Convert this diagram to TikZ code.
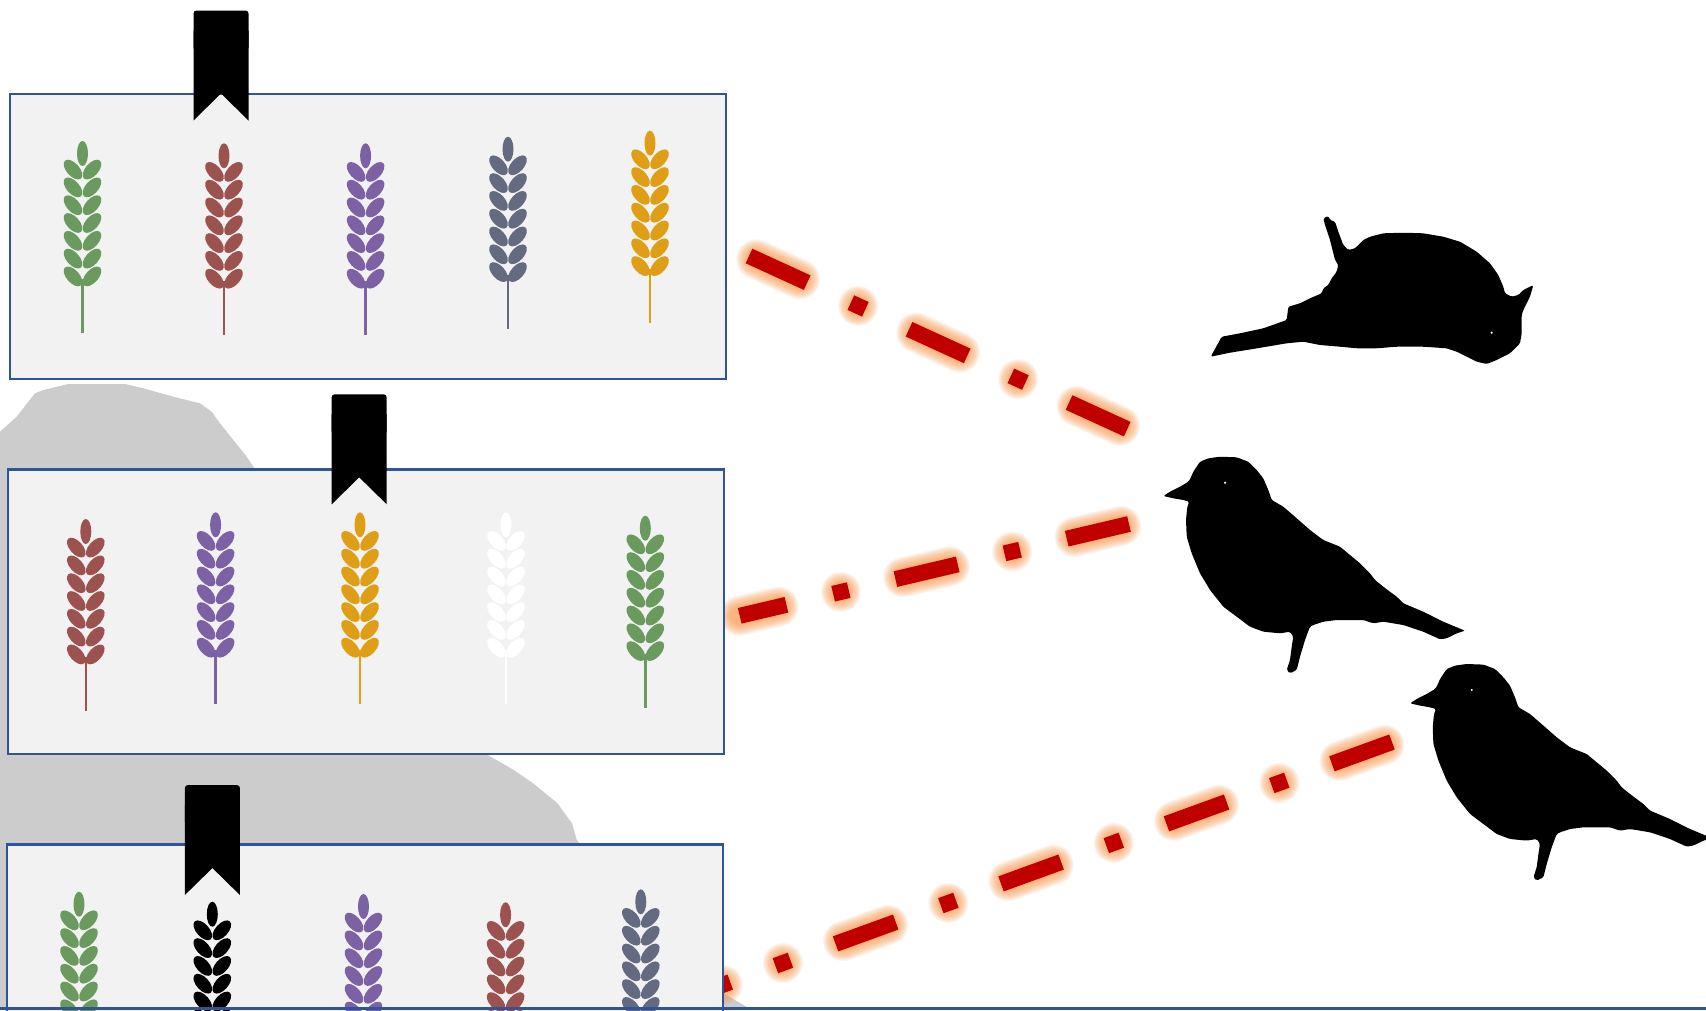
\documentclass[tikz,border=0pt]{standalone}
\usepackage{tikz}
\definecolor{trayblue}{RGB}{47,85,151}
\definecolor{trayfill}{RGB}{242,242,242}
\definecolor{shadowgrey}{RGB}{204,204,204}
\definecolor{linkred}{RGB}{192,0,0}
\definecolor{linkglow}{RGB}{250,150,70}
\definecolor{wgreen}{RGB}{106,154,94}
\definecolor{wred}{RGB}{156,82,78}
\definecolor{wpurple}{RGB}{124,98,164}
\definecolor{wslate}{RGB}{100,106,128}
\definecolor{wgold}{RGB}{222,158,22}
\tikzset
{
  tray/.style   = {draw=trayblue, fill=trayfill, line width=2.2pt, minimum width=716pt, minimum height=284.5pt, anchor=north west, inner sep=0pt},
  link/.style   = {linkred, line width=16pt, dash pattern=on 64pt off 48pt on 16pt off 48pt},
  halo/.style   = {linkglow, opacity=0.09, line cap=round, dash pattern=on 48pt off 64pt on 0pt off 64pt},
  pics/wheat/.style = {code={
    \fill[fill=#1] (-1.3,138) rectangle (1.3,192);
    \fill[fill=#1] (0,12.5) ellipse [x radius=5.5, y radius=12.5];
    \foreach \i in {0,...,6}{
      \pgfmathsetmacro\gy{28.6+17.8*\i}
      \fill[fill=#1, rotate around={-48:(-9.5,\gy)}] (-9.5,\gy) ellipse [x radius=12, y radius=6.4];
      \fill[fill=#1, rotate around={48:(9.5,\gy)}] (9.5,\gy) ellipse [x radius=12, y radius=6.4];
    }
  }},
  pics/ribbon/.style = {code={
    \fill[black, rounded corners=3pt] (-27.5,0) rectangle (27.5,40);
    \fill[black] (-27.5,20) -- (27.5,20) -- (27.5,110) -- (0,83) -- (-27.5,110) -- cycle;
  }},
  pics/sparrow/.style = {code={
    \fill[rounded corners=1.5pt] (13.3,56) -- (20,51.7) -- (30,46.7) -- (38.3,41.7) -- (40,39.3) -- (43.3,31.7) -- (50,21.7)
      -- (58.3,18.3) -- (70,16.7) -- (86.7,17.3) -- (98.3,21.7) -- (106.7,30) -- (113.3,38.3)
      -- (118.3,50) -- (121.7,60) -- (133.3,66.7) -- (146.7,78.3) -- (160,90) -- (173.3,100)
      -- (190,106.7) -- (200,115) -- (210,123.3) -- (220,133.3) -- (225,140) -- (233.3,146.7)
      -- (246.7,156.7) -- (253.3,163.3) -- (273.3,171.7) -- (293.3,181.7) -- (313.3,190)
      -- (315,190.7) -- (306.7,193.3) -- (296.7,198.3) -- (290,199.3) -- (273.3,191.7)
      -- (253.3,185) -- (233.3,181.7) -- (223.3,183.3) -- (213.3,180) -- (186.7,180)
      -- (173.3,181.7) -- (163.3,185) -- (160,186.7) -- (155,200) -- (150,216.7) -- (146.7,230)
      -- (140,233.3) -- (136.7,230) -- (140,220) -- (141.7,206.7) -- (143.3,196.7) -- (140,191.7)
      -- (130,193.3) -- (113.3,191.7) -- (100,186.7) -- (86.7,176.7) -- (73.3,166.7) -- (60,150)
      -- (50,133.3) -- (41.7,113.3) -- (36.7,96.7) -- (36,80) -- (37.3,66.7) -- (39.3,61.7)
      -- (33.3,60) -- (23.3,58.3) -- cycle;
    \fill[white] (75,42.7) circle (1.2);
  }},
  pics/fallen/.style = {code={
    \fill[rounded corners=1.5pt] (20.7,156.7) -- (31.7,136.7) -- (50,133.3) -- (73.3,128.3) -- (96.7,120) -- (98.3,106.7)
      -- (110,103.3) -- (120,98.3) -- (131.7,93.3) -- (133.3,88.3) -- (138.3,85) -- (141.7,78.3)
      -- (146.7,71.7) -- (148.3,65) -- (145,60) -- (140,40) -- (135,25) -- (133.3,18.3) -- (138.3,16)
      -- (140,20) -- (145,21.7) -- (148.3,31.7) -- (153.3,45) -- (158.3,50) -- (165,48.3)
      -- (170,43.3) -- (173.3,40) -- (180,36.7) -- (193.3,33.3) -- (213.3,32.7) -- (233.3,33.3)
      -- (253.3,36.7) -- (270,41.7) -- (286.7,51.7) -- (300,63.3) -- (308.3,75) -- (313.3,86.7)
      -- (315,93.3) -- (321.7,96.7) -- (328.3,95) -- (333.3,90) -- (343.3,85) -- (340,96.7)
      -- (333.3,110) -- (331.7,115) -- (331.7,133.3) -- (330,143.3) -- (320,153.3) -- (306.7,160)
      -- (296.7,164) -- (286.7,161.7) -- (276.7,156.7) -- (266.7,151.7) -- (256.7,148.3)
      -- (233.3,146.7) -- (206.7,146.7) -- (186.7,148.3) -- (166.7,148.3) -- (150,146.7)
      -- (130,145) -- (113.3,141.7) -- (96.7,143.3) -- (76.7,146.7) -- (56.7,150) -- (40,152.7) -- cycle;
    \fill[white] (301.7,132.7) circle (1.2);
  }}
}
\newcommand\glowlink[4]{%
  \foreach \k in {1,...,12}
    \draw[halo, line width={(16+2*\k)*1pt}, dash phase=#4] (#1) -- (#2);
  \draw[link, dash phase=#3] (#1) -- (#2);
}

\begin{document}
\begin{tikzpicture}[x=1pt, y=-1pt]
  \useasboundingbox[fill=white] (0,0) rectangle (1706,1010);

  \fill[shadowgrey] (0,431.7) -- (16.7,416.7) -- (35,393.3) -- (43.3,390) -- (68.3,384) -- (125,384)
    -- (143.3,388.3) -- (173.3,396.7) -- (200,403.3) -- (211.7,411.7) -- (220,423.3) -- (233.3,440)
    -- (246.7,456.7) -- (253.3,466.7) -- (300,520) -- (460,740) -- (484.7,753.3) -- (513.8,770)
    -- (533.2,783.3) -- (557.4,803.3) -- (572,823.3) -- (576.8,840) -- (600,870) -- (723,993)
    -- (752,1010) -- (0,1010) -- cycle;

  \coordinate (l1a) at (749,256);
  \coordinate (l1b) at (1128,429.5);
  \coordinate (l2a) at (739.7,615.8);
  \coordinate (l2b) at (1129,524);
  \coordinate (l3a) at (670.1,1003.9);
  \coordinate (l3b) at (1392,742);
  \glowlink{l1a}{l1b}{0pt}{168pt}
  \glowlink{l2a}{l2b}{16pt}{8pt}
  \glowlink{l3a}{l3b}{0pt}{168pt}

  \node[tray] (tray1) at (8.5,93) {};
  \node[tray] (tray2) at (7,468.3) {};
  \node[tray] (tray3) at (6,843.3) {};

  \foreach \x/\y/\c in {82.5/141/wgreen, 224/143.3/wred, 365.6/143.3/wpurple, 508/136.7/wslate, 650/130.7/wgold,
                        85.8/519/wred, 215.6/512.3/wpurple, 360/512.3/wgold, 506/512.3/white, 645.3/515.7/wgreen,
                        79/891.7/wgreen, 212.3/901.7/black, 363.5/894/wpurple, 505.6/902.3/wred, 640.8/889.3/wslate}
    \pic at (\x,\y) {wheat=\c};

  \pic at (221,10.5) {ribbon};
  \pic at (359.2,394.3) {ribbon};
  \pic at (212.4,785) {ribbon};

  \pic at (1190,200) {fallen};
  \pic at (1150,440) {sparrow};
  \pic at (1396.7,647.3) {sparrow};

  \draw[trayblue, line width=2.2pt] (0,1008.5) -- (1706,1008.5);
\end{tikzpicture}
\end{document}
